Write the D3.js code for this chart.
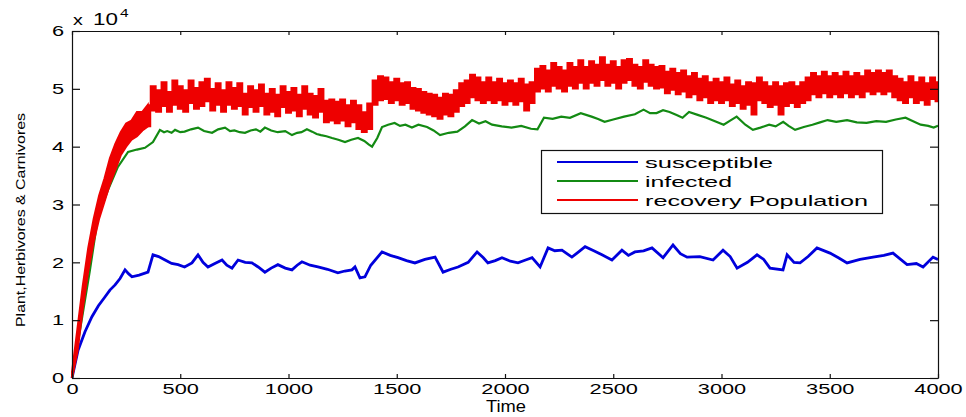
<!DOCTYPE html>
<html>
<head>
<meta charset="utf-8">
<script src="https://cdn.jsdelivr.net/npm/d3@7"></script>
<style>
  html, body { margin: 0; padding: 0; background: #fff; }
  svg { display: block; }
  text { font-family: "Liberation Sans", Arial, sans-serif; fill: #000; }
</style>
</head>
<body>
<svg id="chart" width="966" height="417"></svg>
<script>
// ---- data (population values in units of 10^4) ----
const xTicks = [0, 500, 1000, 1500, 2000, 2500, 3000, 3500, 4000];
const yTicks = [0, 1, 2, 3, 4, 5, 6];
const seriesNames = ["susceptible", "infected", "recovery Population"];
const seriesColors = ["#0000dc", "#138a13", "#ee0000"];

const susceptibleTime = [0,28,60,92,122,152,175,199,222,245,262,277,310,351,374,400,430,460,490,520,
  554,582,605,628,660,693,715,739,767,800,831,860,891,920,951,985,1016,1040,1062,1100,
  1136,1180,1228,1260,1293,1307,1330,1353,1380,1432,1470,1506,1545,1584,1630,1677,1714,1750,1783,1830,
  1871,1900,1921,1955,1986,2025,2060,2095,2125,2162,2199,2230,2263,2309,2340,2370,2410,2448,2494,2540,
  2570,2600,2640,2679,2730,2776,2810,2841,2900,2961,3007,3040,3072,3120,3164,3195,3224,3284,3303,3335,
  3363,3400,3441,3501,3540,3580,3640,3700,3750,3792,3857,3900,3931,3977,4000];
const susceptible = [0,0.48,0.8,1.06,1.25,1.40,1.52,1.61,1.72,1.87,1.8,1.75,1.78,1.83,2.13,2.1,2.04,1.98,1.96,1.92,
  1.99,2.13,2.0,1.92,1.98,2.04,1.95,1.90,2.04,2.0,1.99,1.92,1.83,1.9,1.96,1.9,1.87,1.95,2.01,1.95,
  1.92,1.88,1.82,1.85,1.87,1.92,1.73,1.75,1.95,2.18,2.12,2.08,2.03,1.99,2.05,2.09,1.83,1.88,1.92,2.0,
  2.18,2.08,1.99,2.03,2.08,2.02,1.99,2.04,2.08,1.92,2.25,2.2,2.21,2.09,2.18,2.27,2.2,2.13,2.04,2.21,
  2.12,2.18,2.2,2.25,2.08,2.30,2.15,2.09,2.1,2.04,2.21,2.1,1.90,2.0,2.13,2.05,1.90,1.87,2.13,2.0,
  1.99,2.1,2.25,2.16,2.08,1.99,2.05,2.09,2.12,2.16,1.96,1.98,1.92,2.09,2.05];

const infectedTime = [0,37,83,120,166,212,259,300,337,374,
  406,425,440,460,476,500,520,550,582,610,
  647,675,707,730,750,775,799,825,850,870,
  891,920,950,985,1016,1040,1060,1085,1109,1130,
  1150,1175,1201,1230,1261,1290,1321,1350,1370,1386,
  1410,1432,1460,1490,1515,1540,1570,1600,1640,1670,
  1700,1740,1780,1815,1848,1880,1910,1940,1985,2030,
  2075,2120,2150,2180,2220,2260,2300,2350,2400,2430,
  2460,2500,2550,2600,2640,2670,2700,2730,2760,2790,
  2820,2850,2890,2930,2970,3010,3040,3070,3110,3145,
  3180,3220,3250,3285,3310,3340,3380,3420,3455,3490,
  3530,3580,3625,3670,3715,3760,3805,3850,3880,3920,
  3955,3980,4000];
const infected = [0,0.83,1.87,2.79,3.25,3.65,3.91,3.95,3.98,4.08,
  4.29,4.25,4.27,4.24,4.29,4.25,4.26,4.3,4.33,4.27,
  4.24,4.3,4.33,4.27,4.28,4.25,4.24,4.28,4.3,4.26,
  4.33,4.28,4.25,4.27,4.2,4.24,4.25,4.3,4.26,4.22,
  4.2,4.18,4.15,4.12,4.08,4.12,4.15,4.1,4.04,4.0,
  4.15,4.34,4.38,4.41,4.36,4.38,4.33,4.38,4.34,4.28,
  4.2,4.24,4.26,4.35,4.46,4.40,4.44,4.38,4.35,4.33,
  4.36,4.31,4.30,4.50,4.48,4.52,4.5,4.58,4.52,4.48,
  4.43,4.47,4.52,4.56,4.64,4.58,4.58,4.63,4.60,4.55,
  4.50,4.60,4.55,4.50,4.44,4.38,4.45,4.52,4.38,4.29,
  4.33,4.38,4.35,4.43,4.36,4.29,4.34,4.38,4.42,4.46,
  4.43,4.46,4.42,4.41,4.44,4.43,4.47,4.50,4.45,4.38,
  4.36,4.33,4.36];

// recovered population fluctuates strongly: upper and lower extent every 25 time units
const recoveryTime = d3.range(0, 4001, 25);
const recoveryUpper = [
  0.1,0.85,1.6,2.25,2.75,3.15,3.45,3.8,4.05,4.25,
  4.4,4.45,4.6,4.6,4.72,5.05,4.98,5.12,4.95,5.15,
  5.05,4.98,5.15,5.02,5.12,5.18,5.0,5.1,4.98,5.12,
  5.02,5.1,4.92,5.05,4.98,5.08,4.92,5.0,4.9,5.05,
  4.95,5.02,4.9,5.05,4.92,4.88,5.0,4.8,4.82,4.78,
  4.82,4.72,4.8,4.72,4.6,4.75,5.15,5.22,5.2,5.12,
  5.18,5.1,5.12,5.02,5.0,4.95,4.92,4.9,4.85,4.92,
  4.9,4.98,5.1,5.15,5.25,5.2,5.12,5.2,5.12,5.18,
  5.1,5.15,5.1,5.18,5.08,5.12,5.35,5.4,5.32,5.45,
  5.38,5.32,5.45,5.38,5.5,5.38,5.48,5.42,5.55,5.42,
  5.48,5.38,5.5,5.52,5.42,5.38,5.5,5.42,5.38,5.4,
  5.3,5.35,5.28,5.32,5.22,5.28,5.18,5.22,5.12,5.18,
  5.12,5.2,5.08,5.15,5.05,5.12,5.1,5.2,5.12,5.05,
  5.12,5.05,5.1,5.12,5.05,5.12,5.2,5.28,5.22,5.3,
  5.22,5.28,5.22,5.3,5.22,5.28,5.22,5.32,5.28,5.32,
  5.28,5.32,5.22,5.18,5.12,5.22,5.12,5.2,5.1,5.2,
  5.12];
const recoveryLower = [
  0,0.45,1.2,1.85,2.35,2.75,3.05,3.35,3.6,3.85,
  4.0,4.12,4.18,4.28,4.35,4.62,4.6,4.7,4.6,4.72,
  4.65,4.6,4.75,4.65,4.7,4.78,4.62,4.72,4.6,4.72,
  4.65,4.7,4.55,4.68,4.6,4.7,4.55,4.6,4.52,4.68,
  4.58,4.62,4.52,4.65,4.55,4.5,4.6,4.42,4.45,4.4,
  4.45,4.35,4.42,4.3,4.25,4.3,4.72,4.8,4.82,4.75,
  4.8,4.72,4.75,4.65,4.62,4.58,4.55,4.52,4.48,4.55,
  4.52,4.6,4.7,4.75,4.85,4.8,4.75,4.8,4.75,4.8,
  4.72,4.78,4.72,4.78,4.62,4.75,4.95,5.0,4.95,5.05,
  5.0,4.95,5.05,5.0,5.1,5.0,5.1,5.05,5.15,5.05,
  5.1,5.0,5.1,5.15,5.05,5.0,5.12,5.05,5.0,5.02,
  4.92,4.98,4.9,4.95,4.85,4.9,4.8,4.85,4.75,4.8,
  4.75,4.8,4.7,4.75,4.65,4.72,4.55,4.8,4.75,4.68,
  4.72,4.55,4.7,4.75,4.68,4.75,4.8,4.9,4.85,4.92,
  4.85,4.9,4.85,4.92,4.85,4.9,4.85,4.95,4.9,4.95,
  4.9,4.95,4.85,4.8,4.75,4.85,4.75,4.8,4.72,4.82,
  4.78];

// ---- layout ----
const svg = d3.select("#chart");
const plotLeft = 72, plotRight = 938, plotTop = 31, plotBottom = 378;

const x = d3.scaleLinear().domain([0, 4000]).range([plotLeft, plotRight]);
const y = d3.scaleLinear().domain([0, 6]).range([plotBottom, plotTop]);

// widen glyphs horizontally, like the figure's raster fonts
function stretch(sel, factor) {
  sel.each(function () {
    const w = this.getComputedTextLength();
    if (w > 0) {
      this.setAttribute("textLength", (w * factor).toFixed(1));
      this.setAttribute("lengthAdjust", "spacingAndGlyphs");
    }
  });
}

// ---- series ----
const plot = svg.append("g");

const sPts = d3.zip(susceptibleTime, susceptible);
const iPts = d3.zip(infectedTime, infected);
const rPts = recoveryTime.map((t, k) => [t, recoveryLower[k], recoveryUpper[k]]);
const rampEnd = recoveryTime.indexOf(350);

plot.append("path")
  .datum(sPts)
  .attr("fill", "none")
  .attr("stroke", seriesColors[0])
  .attr("stroke-width", 2.8)
  .attr("stroke-linejoin", "miter")
  .attr("d", d3.line().x(d => x(d[0])).y(d => y(d[1])));

plot.append("path")
  .datum(iPts)
  .attr("fill", "none")
  .attr("stroke", seriesColors[1])
  .attr("stroke-width", 2.2)
  .attr("d", d3.line().x(d => x(d[0])).y(d => y(d[1])));

// recovered: smooth band during the initial rise, blocky noisy band afterwards
const rArea = (curve) => d3.area().curve(curve)
  .x(d => x(d[0])).y0(d => y(d[1])).y1(d => y(d[2]));

plot.append("path")
  .datum(rPts.slice(0, rampEnd + 1))
  .attr("fill", seriesColors[2])
  .attr("stroke", seriesColors[2])
  .attr("stroke-width", 2)
  .attr("d", rArea(d3.curveLinear));

plot.append("path")
  .datum(rPts.slice(rampEnd))
  .attr("fill", seriesColors[2])
  .attr("stroke", seriesColors[2])
  .attr("stroke-width", 1.5)
  .attr("stroke-linejoin", "miter")
  .attr("d", rArea(d3.curveStep));

// ---- axes (ticks point inward, box on all sides) ----
const axisG = svg.append("g");

const gx = axisG.append("g")
  .attr("transform", `translate(0,${plotBottom})`)
  .call(d3.axisBottom(x).tickValues(xTicks).tickFormat(d3.format("d"))
    .tickSizeInner(-4).tickSizeOuter(0).tickPadding(5));
const gy = axisG.append("g")
  .attr("transform", `translate(${plotLeft},0)`)
  .call(d3.axisLeft(y).tickValues(yTicks).tickFormat(d3.format("d"))
    .tickSizeInner(-8).tickSizeOuter(0).tickPadding(8));
axisG.append("g")
  .attr("transform", `translate(0,${plotTop})`)
  .call(d3.axisTop(x).tickValues(xTicks).tickFormat("")
    .tickSizeInner(-4).tickSizeOuter(0));
axisG.append("g")
  .attr("transform", `translate(${plotRight},0)`)
  .call(d3.axisRight(y).tickValues(yTicks).tickFormat("")
    .tickSizeInner(-8).tickSizeOuter(0));

axisG.selectAll("path.domain").attr("stroke", "#111").attr("stroke-width", 1.2);
axisG.selectAll(".tick line").attr("stroke", "#111").attr("stroke-width", 1.2);
axisG.selectAll(".tick text")
  .attr("font-family", "Liberation Sans, Arial, sans-serif")
  .attr("font-size", 15)
  .attr("fill", "#111");
stretch(gx.selectAll(".tick text"), 1.45);
stretch(gy.selectAll(".tick text"), 1.45);

// exponent label
const expo = svg.append("g").attr("fill", "#111");
expo.append("text").attr("x", 73).attr("y", 25).attr("font-size", 15).text("x")
  .call(s => stretch(s, 1.3));
expo.append("text").attr("x", 93).attr("y", 25).attr("font-size", 16).text("10")
  .call(s => stretch(s, 1.4));
expo.append("text").attr("x", 120).attr("y", 17).attr("font-size", 11).text("4")
  .call(s => stretch(s, 1.4));

// axis titles
svg.append("text")
  .attr("x", (plotLeft + plotRight) / 2 + 1)
  .attr("y", 412)
  .attr("text-anchor", "middle")
  .attr("font-size", 16)
  .attr("fill", "#111")
  .attr("textLength", 40)
  .attr("lengthAdjust", "spacingAndGlyphs")
  .text("Time");

svg.append("text")
  .attr("transform", "translate(25,220) rotate(-90)")
  .attr("text-anchor", "middle")
  .attr("font-size", 13)
  .attr("fill", "#111")
  .attr("textLength", 214)
  .attr("lengthAdjust", "spacingAndGlyphs")
  .text("Plant,Herbivores & Carnivores");

// ---- legend ----
const legend = svg.append("g");
legend.append("rect")
  .attr("x", 541.5).attr("y", 150.5)
  .attr("width", 341).attr("height", 63)
  .attr("fill", "#fff").attr("stroke", "#111").attr("stroke-width", 1.2);

const legendY = [162, 181, 200];
const legendWidths = [128, 87, 223];
seriesNames.forEach((name, k) => {
  legend.append("line")
    .attr("x1", 557).attr("x2", 638)
    .attr("y1", legendY[k]).attr("y2", legendY[k])
    .attr("stroke", seriesColors[k]).attr("stroke-width", 2);
  legend.append("text")
    .attr("x", 645).attr("y", legendY[k] + 5.5)
    .attr("font-family", "DejaVu Sans, sans-serif")
    .attr("font-size", 14.5)
    .attr("fill", "#111")
    .attr("textLength", legendWidths[k])
    .attr("lengthAdjust", "spacingAndGlyphs")
    .text(name);
});
</script>
</body>
</html>
